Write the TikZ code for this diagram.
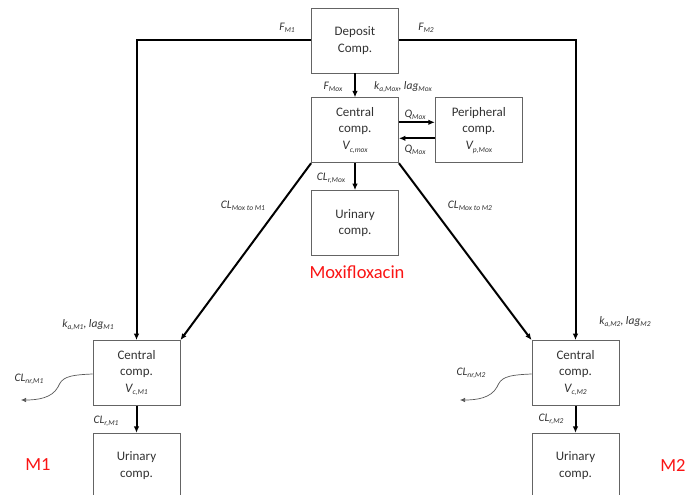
\documentclass[tikz,border=0pt]{standalone}
\usepackage{fontspec}
\setmainfont{Carlito}
\usepackage{xcolor}
\usetikzlibrary{arrows.meta, positioning}
\definecolor{boxline}{RGB}{100,100,100}
\definecolor{labelgray}{RGB}{50,50,50}
\definecolor{modelred}{RGB}{250,20,20}
\newcommand{\lsub}[1]{\raisebox{-0.45ex}{\fontsize{7.5}{8}\selectfont #1}}

\begin{document}
\begin{tikzpicture}[
        x=1pt, y=-1pt,
        node distance=24pt,
        comp/.style={rectangle, draw=boxline, line width=0.8pt, minimum width=87pt, minimum height=65pt, inner sep=0pt, align=center, font=\fontsize{13}{16.5}\selectfont, text=labelgray},
        flow/.style={-{Latex[length=6.5pt,width=5.5pt]}, line width=2pt, black},
        elim/.style={-{Latex[length=5pt,width=4.5pt]}, line width=0.7pt, gray!70!black},
        pklabel/.style={font=\fontsize{11.5}{13}\selectfont\itshape, text=labelgray, inner sep=0pt},
        modelname/.style={font=\fontsize{18.5}{20}\selectfont, text=modelred}
    ]
    \useasboundingbox (0,0) rectangle (686,495);
    \clip (0,0) rectangle (686,495);

    % Moxifloxacin compartments
    \node[comp] (deposit) at (355,40.5) {Deposit\\Comp.};
    \node[comp, below=24pt of deposit] (cmox) {Central\\comp.\\\textit{V\lsub{c,mox}}};
    \node[comp, right=36pt of cmox] (pmox) {Peripheral\\comp.\\\textit{V\lsub{p,Mox}}};
    \node[comp, below=27pt of cmox] (umox) {Urinary\\comp.};

    % Metabolite compartments
    \node[comp] (cm1) at (136.5,373) {Central\\comp.\\\textit{V\lsub{c,M1}}};
    \node[comp, below=27pt of cm1] (um1) {Urinary\\comp.};
    \node[comp] (cm2) at (575.5,373) {Central\\comp.\\\textit{V\lsub{c,M2}}};
    \node[comp, below=27pt of cm2] (um2) {Urinary\\comp.};

    % Arrows
    \draw[flow] (deposit.west) -| (cm1.north);
    \draw[flow] (deposit.east) -| (cm2.north);
    \draw[flow] (deposit) -- (cmox);
    \draw[flow] ([yshift=8pt]cmox.east) -- ([yshift=8pt]pmox.west);
    \draw[flow] ([yshift=-8pt]pmox.west) -- ([yshift=-8pt]cmox.east);
    \draw[flow] (cmox) -- (umox);
    \draw[flow] (cmox.south west) -- (cm1.north east);
    \draw[flow] (cmox.south east) -- (cm2.north west);
    \draw[flow] (cm1) -- (um1);
    \draw[flow] (cm2) -- (um2);

    % Non-renal elimination
    \coordinate (nr1) at (21,400);
    \coordinate (nr2) at (460,400);
    \draw[elim] ([yshift=-1pt]cm1.west) .. controls (66,375) and (62,378) .. (58,387) .. controls (52,398) and (38,400) .. (nr1);
    \draw[elim] ([yshift=-1pt]cm2.west) .. controls (505,375) and (501,378) .. (497,387) .. controls (491,398) and (477,400) .. (nr2);

    % Labels
    \node[pklabel] (fm1) at (287,28) {F\lsub{M1}};
    \node[pklabel] (fm2) at (426,28) {F\lsub{M2}};
    \node[pklabel] (fmox) at (333,87) {F\lsub{Mox}};
    \node[pklabel] (kamox) at (403,87) {k\lsub{a,Mox}, lag\lsub{Mox}};
    \node[pklabel] (qin) at (415,115) {Q\lsub{Mox}};
    \node[pklabel] (qout) at (415,150) {Q\lsub{Mox}};
    \node[pklabel] (clrmox) at (331,178) {CL\lsub{r,Mox}};
    \node[pklabel] (clm1) at (243,206) {CL\lsub{Mox to M1}};
    \node[pklabel] (clm2) at (470,206) {CL\lsub{Mox to M2}};
    \node[pklabel] (kam1) at (88,325) {k\lsub{a,M1}, lag\lsub{M1}};
    \node[pklabel] (kam2) at (625,322) {k\lsub{a,M2}, lag\lsub{M2}};
    \node[pklabel] (clnr1) at (29,379) {CL\lsub{nr,M1}};
    \node[pklabel] (clnr2) at (471,373) {CL\lsub{nr,M2}};
    \node[pklabel] (clr1) at (106,421) {CL\lsub{r,M1}};
    \node[pklabel] (clr2) at (551,419) {CL\lsub{r,M2}};

    \node[modelname] (moxi) at (357,272) {Moxifloxacin};
    \node[modelname] (m1) at (38,465) {M1};
    \node[modelname] (m2) at (673,465) {M2};

\end{tikzpicture}
\end{document}
